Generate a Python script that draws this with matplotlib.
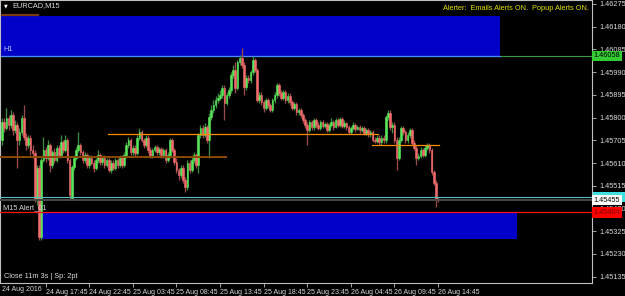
import numpy as np
import matplotlib.pyplot as plt
import matplotlib.transforms as mtrans
from matplotlib.patches import Rectangle

symbol = 'EURCAD,M15'
first_date = '24 Aug 2016'
time_labels = ['24 Aug 17:45', '24 Aug 22:45', '25 Aug 03:45', '25 Aug 08:45', '25 Aug 13:45',
               '25 Aug 18:45', '25 Aug 23:45', '26 Aug 04:45', '26 Aug 09:45', '26 Aug 14:45']
time_label_bars = [20, 40, 60, 80, 100, 120, 140, 160, 180, 200]
price_ticks = [1.46275, 1.46180, 1.46085, 1.45990, 1.45895, 1.45800, 1.45705,
               1.45610, 1.45515, 1.45420, 1.45325, 1.45230, 1.45135]

# M15 bars, 24 Aug 12:45 .. 26 Aug 14:45
opens = [
    1.45706, 1.45782, 1.45757, 1.45798, 1.45769, 1.45811, 1.45748, 1.45769, 1.45706, 1.45740,
    1.45798, 1.45719, 1.45685, 1.45715, 1.45665, 1.45652, 1.45456, 1.45589, 1.45301, 1.45623,
    1.45665, 1.45631, 1.45685, 1.45602, 1.45656, 1.45623, 1.45673, 1.45644, 1.45698, 1.45665,
    1.45706, 1.45623, 1.45464, 1.45593, 1.45631, 1.45665, 1.45685, 1.45656, 1.45623, 1.45644,
    1.45602, 1.45631, 1.45610, 1.45589, 1.45623, 1.45644, 1.45614, 1.45631, 1.45602, 1.45623,
    1.45581, 1.45610, 1.45589, 1.45623, 1.45602, 1.45631, 1.45602, 1.45644, 1.45685, 1.45706,
    1.45656, 1.45673, 1.45652, 1.45715, 1.45740, 1.45706, 1.45685, 1.45715, 1.45665, 1.45639,
    1.45665, 1.45677, 1.45656, 1.45669, 1.45644, 1.45665, 1.45623, 1.45644, 1.45706, 1.45665,
    1.45614, 1.45581, 1.45560, 1.45589, 1.45539, 1.45510, 1.45610, 1.45581, 1.45623, 1.45644,
    1.45602, 1.45727, 1.45757, 1.45727, 1.45761, 1.45706, 1.45803, 1.45832, 1.45853, 1.45874,
    1.45882, 1.45895, 1.45924, 1.45861, 1.45895, 1.45915, 1.45978, 1.45999, 1.45924, 1.46032,
    1.46049, 1.46020, 1.45928, 1.45966, 1.45957, 1.45991, 1.46041, 1.45999, 1.45874, 1.45895,
    1.45865, 1.45840, 1.45874, 1.45853, 1.45832, 1.45874, 1.45895, 1.45936, 1.45903, 1.45882,
    1.45907, 1.45874, 1.45890, 1.45865, 1.45840, 1.45857, 1.45823, 1.45832, 1.45811, 1.45790,
    1.45769, 1.45748, 1.45782, 1.45761, 1.45790, 1.45769, 1.45757, 1.45782, 1.45765, 1.45773,
    1.45748, 1.45769, 1.45782, 1.45761, 1.45790, 1.45769, 1.45794, 1.45765, 1.45777, 1.45761,
    1.45740, 1.45757, 1.45769, 1.45752, 1.45761, 1.45748, 1.45757, 1.45736, 1.45748, 1.45731,
    1.45740, 1.45706, 1.45702, 1.45715, 1.45698, 1.45715, 1.45706, 1.45803, 1.45819, 1.45761,
    1.45769, 1.45706, 1.45631, 1.45706, 1.45757, 1.45740, 1.45706, 1.45727, 1.45748, 1.45694,
    1.45673, 1.45631, 1.45639, 1.45665, 1.45644, 1.45673, 1.45685, 1.45665, 1.45573, 1.45527,
    1.45456]
highs = [
    1.45798, 1.45798, 1.45840, 1.45811, 1.45832, 1.45823, 1.45790, 1.45782, 1.45757, 1.45811,
    1.45853, 1.45736, 1.45727, 1.45727, 1.45685, 1.45665, 1.45602, 1.45602, 1.45639, 1.45719,
    1.45677, 1.45706, 1.45694, 1.45665, 1.45673, 1.45685, 1.45685, 1.45727, 1.45706, 1.45727,
    1.45715, 1.45631, 1.45602, 1.45644, 1.45677, 1.45740, 1.45694, 1.45665, 1.45656, 1.45652,
    1.45644, 1.45644, 1.45623, 1.45631, 1.45665, 1.45652, 1.45644, 1.45644, 1.45631, 1.45631,
    1.45623, 1.45623, 1.45631, 1.45631, 1.45644, 1.45644, 1.45656, 1.45698, 1.45719, 1.45715,
    1.45685, 1.45685, 1.45727, 1.45757, 1.45748, 1.45715, 1.45727, 1.45727, 1.45677, 1.45673,
    1.45685, 1.45685, 1.45677, 1.45677, 1.45673, 1.45673, 1.45656, 1.45715, 1.45715, 1.45673,
    1.45631, 1.45589, 1.45602, 1.45602, 1.45552, 1.45623, 1.45623, 1.45635, 1.45656, 1.45652,
    1.45736, 1.45769, 1.45769, 1.45777, 1.45769, 1.45819, 1.45853, 1.45874, 1.45890, 1.45903,
    1.45915, 1.45936, 1.45936, 1.45907, 1.45928, 1.45991, 1.46020, 1.46032, 1.46041, 1.46062,
    1.46091, 1.46032, 1.45978, 1.45978, 1.45999, 1.46058, 1.46049, 1.46007, 1.45907, 1.45907,
    1.45874, 1.45882, 1.45882, 1.45861, 1.45882, 1.45907, 1.45945, 1.45945, 1.45915, 1.45915,
    1.45915, 1.45903, 1.45903, 1.45874, 1.45865, 1.45865, 1.45840, 1.45840, 1.45819, 1.45798,
    1.45782, 1.45790, 1.45790, 1.45798, 1.45798, 1.45782, 1.45790, 1.45790, 1.45782, 1.45782,
    1.45777, 1.45798, 1.45790, 1.45798, 1.45798, 1.45803, 1.45803, 1.45790, 1.45782, 1.45769,
    1.45765, 1.45782, 1.45777, 1.45769, 1.45769, 1.45765, 1.45765, 1.45757, 1.45757, 1.45748,
    1.45748, 1.45719, 1.45727, 1.45727, 1.45727, 1.45727, 1.45811, 1.45832, 1.45832, 1.45782,
    1.45782, 1.45719, 1.45719, 1.45765, 1.45765, 1.45748, 1.45740, 1.45757, 1.45757, 1.45706,
    1.45685, 1.45652, 1.45677, 1.45673, 1.45685, 1.45694, 1.45694, 1.45673, 1.45581, 1.45539,
    1.45468]
lows = [
    1.45685, 1.45740, 1.45748, 1.45748, 1.45757, 1.45727, 1.45736, 1.45589, 1.45685, 1.45727,
    1.45706, 1.45665, 1.45673, 1.45644, 1.45631, 1.45447, 1.45435, 1.45288, 1.45288, 1.45614,
    1.45614, 1.45623, 1.45573, 1.45589, 1.45610, 1.45614, 1.45631, 1.45631, 1.45652, 1.45656,
    1.45610, 1.45456, 1.45456, 1.45581, 1.45623, 1.45656, 1.45644, 1.45610, 1.45610, 1.45589,
    1.45589, 1.45602, 1.45573, 1.45581, 1.45610, 1.45602, 1.45602, 1.45589, 1.45593, 1.45573,
    1.45568, 1.45581, 1.45581, 1.45589, 1.45593, 1.45589, 1.45593, 1.45631, 1.45673, 1.45644,
    1.45644, 1.45639, 1.45644, 1.45706, 1.45698, 1.45673, 1.45677, 1.45652, 1.45631, 1.45631,
    1.45656, 1.45644, 1.45644, 1.45631, 1.45631, 1.45610, 1.45614, 1.45631, 1.45656, 1.45602,
    1.45568, 1.45539, 1.45547, 1.45527, 1.45489, 1.45497, 1.45568, 1.45573, 1.45610, 1.45589,
    1.45568, 1.45715, 1.45715, 1.45719, 1.45694, 1.45631, 1.45790, 1.45819, 1.45840, 1.45861,
    1.45874, 1.45882, 1.45790, 1.45853, 1.45882, 1.45903, 1.45966, 1.45903, 1.45915, 1.46020,
    1.46007, 1.45895, 1.45915, 1.45945, 1.45945, 1.45978, 1.45991, 1.45865, 1.45861, 1.45853,
    1.45823, 1.45832, 1.45840, 1.45823, 1.45823, 1.45861, 1.45882, 1.45890, 1.45874, 1.45874,
    1.45861, 1.45861, 1.45853, 1.45832, 1.45832, 1.45811, 1.45811, 1.45798, 1.45777, 1.45757,
    1.45685, 1.45740, 1.45748, 1.45748, 1.45757, 1.45748, 1.45748, 1.45757, 1.45757, 1.45740,
    1.45740, 1.45761, 1.45748, 1.45757, 1.45761, 1.45761, 1.45757, 1.45757, 1.45748, 1.45731,
    1.45731, 1.45748, 1.45740, 1.45748, 1.45736, 1.45740, 1.45727, 1.45727, 1.45719, 1.45719,
    1.45698, 1.45694, 1.45694, 1.45685, 1.45685, 1.45694, 1.45694, 1.45790, 1.45748, 1.45736,
    1.45694, 1.45581, 1.45623, 1.45698, 1.45727, 1.45694, 1.45694, 1.45715, 1.45685, 1.45665,
    1.45602, 1.45623, 1.45631, 1.45635, 1.45635, 1.45665, 1.45652, 1.45560, 1.45518, 1.45426,
    1.45447]
closes = [
    1.45782, 1.45757, 1.45798, 1.45769, 1.45811, 1.45748, 1.45769, 1.45706, 1.45740, 1.45798,
    1.45719, 1.45685, 1.45715, 1.45665, 1.45652, 1.45456, 1.45589, 1.45301, 1.45623, 1.45665,
    1.45631, 1.45685, 1.45602, 1.45656, 1.45623, 1.45673, 1.45644, 1.45698, 1.45665, 1.45706,
    1.45623, 1.45476, 1.45593, 1.45631, 1.45665, 1.45685, 1.45656, 1.45623, 1.45644, 1.45602,
    1.45631, 1.45610, 1.45589, 1.45623, 1.45644, 1.45614, 1.45631, 1.45602, 1.45623, 1.45581,
    1.45610, 1.45589, 1.45623, 1.45602, 1.45631, 1.45602, 1.45644, 1.45685, 1.45706, 1.45656,
    1.45673, 1.45652, 1.45715, 1.45740, 1.45706, 1.45685, 1.45715, 1.45665, 1.45639, 1.45665,
    1.45677, 1.45656, 1.45669, 1.45644, 1.45665, 1.45623, 1.45644, 1.45706, 1.45665, 1.45614,
    1.45581, 1.45560, 1.45589, 1.45539, 1.45510, 1.45610, 1.45581, 1.45623, 1.45644, 1.45602,
    1.45727, 1.45757, 1.45727, 1.45761, 1.45706, 1.45803, 1.45832, 1.45853, 1.45874, 1.45882,
    1.45895, 1.45924, 1.45861, 1.45895, 1.45915, 1.45978, 1.45999, 1.45924, 1.46032, 1.46049,
    1.46020, 1.45928, 1.45966, 1.45957, 1.45991, 1.46041, 1.45999, 1.45874, 1.45895, 1.45865,
    1.45840, 1.45874, 1.45853, 1.45832, 1.45874, 1.45895, 1.45936, 1.45903, 1.45882, 1.45907,
    1.45874, 1.45890, 1.45865, 1.45840, 1.45857, 1.45823, 1.45832, 1.45811, 1.45790, 1.45769,
    1.45748, 1.45782, 1.45761, 1.45790, 1.45769, 1.45757, 1.45782, 1.45765, 1.45773, 1.45748,
    1.45769, 1.45782, 1.45761, 1.45790, 1.45769, 1.45794, 1.45765, 1.45777, 1.45761, 1.45740,
    1.45757, 1.45769, 1.45752, 1.45761, 1.45748, 1.45757, 1.45736, 1.45748, 1.45731, 1.45740,
    1.45706, 1.45702, 1.45715, 1.45698, 1.45715, 1.45706, 1.45803, 1.45819, 1.45761, 1.45769,
    1.45706, 1.45631, 1.45706, 1.45757, 1.45740, 1.45706, 1.45727, 1.45748, 1.45694, 1.45673,
    1.45631, 1.45639, 1.45665, 1.45644, 1.45673, 1.45685, 1.45665, 1.45573, 1.45527, 1.45456,
    1.45455]

# chart objects: zones (bar from, bar to, low, high) and levels
zone_h1 = (-1.0, 228.4, 1.46058, 1.46225)
zone_m15 = (18.3, 236.0, 1.45292, 1.45404)
h1_level = 1.46058
m15_level = 1.45404
alert_level = 1.45468
bid = 1.45455
# (bar from, bar to, price)
orange_segments = [(48.6, 172.5, 1.45731), (169.7, 200.5, 1.45684)]
brown_segments = [(-1.0, 102.8, 1.45636)]
top_segment = (0.0, 16.5, 1.46227)

plt.rcParams['font.family'] = ['Liberation Sans', 'DejaVu Sans']
fs = 5.3
W, H = 625, 296

fig = plt.figure(figsize=(W / 100, H / 100), dpi=100, facecolor='black')
ax = fig.add_axes([0, 13 / H, 592 / W, 1 - 13 / H])
ax.set_facecolor('black')
ax.set_xlim(-0.92, 270.6)
ax.set_ylim(1.451085, 1.462917)

o = np.array(opens)
h = np.array(highs)
l = np.array(lows)
c = np.array(closes)
x = np.arange(len(c))
up = c >= o

# zones behind the candles
for x0, x1, lo, hi in [zone_h1, zone_m15]:
    ax.add_patch(Rectangle((x0, lo), x1 - x0, hi - lo, facecolor='#0000c8', edgecolor='none', zorder=1))
ax.plot([zone_h1[0], zone_h1[1]], [h1_level, h1_level], color='#4a8cff', lw=0.9, zorder=1.5)

# candles
wick_col = np.where(up, '#3c8a3c', '#9a4a4a')
ax.vlines(x, l, h, colors=wick_col, lw=0.95, zorder=2)
ax.bar(x[up], (c - o)[up], bottom=o[up], width=0.75, color='#5ae85a',
       edgecolor='#5ae85a', linewidth=0.4, zorder=3)
ax.bar(x[~up], (o - c)[~up], bottom=c[~up], width=0.75, color='#f26c6c',
       edgecolor='#f26c6c', linewidth=0.4, zorder=3)

# levels
ax.axhline(h1_level, color='#3a9a3a', lw=0.8, zorder=1.4)
ax.axhline(m15_level, color='#ff1010', lw=0.9, zorder=4)
ax.axhline(alert_level, color='#58c0c0', lw=0.8, zorder=4)
ax.axhline(bid, color='#4a4a4a', lw=1.4, zorder=4)
for x0, x1, p in orange_segments:
    ax.plot([x0, x1], [p, p], color='#ff8c00', lw=0.9, zorder=4)
for x0, x1, p in brown_segments:
    ax.plot([x0, x1], [p, p], color='#8a4a00', lw=1.4, zorder=4)
ax.plot([top_segment[0], top_segment[1]], [top_segment[2]] * 2, color='#7a3a10', lw=1.6, zorder=4)

# axes styling
for side in ['left', 'top', 'right', 'bottom']:
    ax.spines[side].set_color('#c0c0c0')
    ax.spines[side].set_linewidth(0.8)
ax.yaxis.tick_right()
ax.set_yticks(price_ticks)
ax.set_yticklabels([f'{p:.5f}' for p in price_ticks])
ax.set_xticks(time_label_bars)
ax.set_xticklabels(time_labels, ha='left')
ax.tick_params(axis='both', colors='#c0c0c0', labelcolor='#d8d8d8', labelsize=fs,
               length=3, width=0.6, pad=1.2)
ax.tick_params(axis='x', labelsize=5.0, pad=1.0)
ax.tick_params(axis='y', pad=2)

tr_x = mtrans.blended_transform_factory(ax.transData, ax.transAxes)
ax.text(0, -0.022, first_date, transform=tr_x, ha='left', va='center',
        fontsize=5.0, color='#d8d8d8', clip_on=False)

# price labels on the right scale
tr_y = mtrans.blended_transform_factory(ax.transAxes, ax.transData)
# alert line label is mostly hidden under the bid label: only its box shows
ax.add_patch(Rectangle((1.0 + 1 / 592, alert_level - 0.00019), 33 / 592, 0.00038,
                       transform=tr_y, facecolor='#40e0e0', edgecolor='none',
                       clip_on=False, zorder=9))
price_boxes = [(h1_level, '#33cc33', 'black'), (bid, 'white', 'black'),
               (m15_level, '#ff0000', '#7a0000')]
for p, bg, fg in price_boxes:
    ax.text(1.0 + 1.5 / 592, p, f'{p:.5f}', transform=tr_y, ha='left', va='center',
            fontsize=fs, color=fg, clip_on=False, zorder=10,
            bbox=dict(boxstyle='square,pad=0.25', fc=bg, ec='none'))

# texts
fig.text(4 / W, 1 - 6 / H, '\u25bc', fontsize=3.5, color='white', ha='left', va='center',
         family=['DejaVu Sans'])
fig.text(12 / W, 1 - 6 / H, symbol, fontsize=fs, color='#d8d8d8', ha='left', va='center')
fig.text(589 / W, 1 - 9 / H, 'Alerter:  Emails Alerts ON.  Popup Alerts ON.', fontsize=fs,
         color='#e0e000', ha='right', va='center')
fig.text(3 / W, 1 - 50 / H, 'H1', fontsize=fs, color='#b8c8ff', ha='left', va='center')
fig.text(3 / W, 1 - 208 / H, 'M15 Alert_01', fontsize=fs, color='#d8d8d8', ha='left', va='center')
fig.text(4 / W, 1 - 276 / H, 'Close 11m 3s | Sp: 2pt', fontsize=fs, color='#d8d8d8',
         ha='left', va='center')

fig.savefig('out.png', dpi=100, facecolor='black')
